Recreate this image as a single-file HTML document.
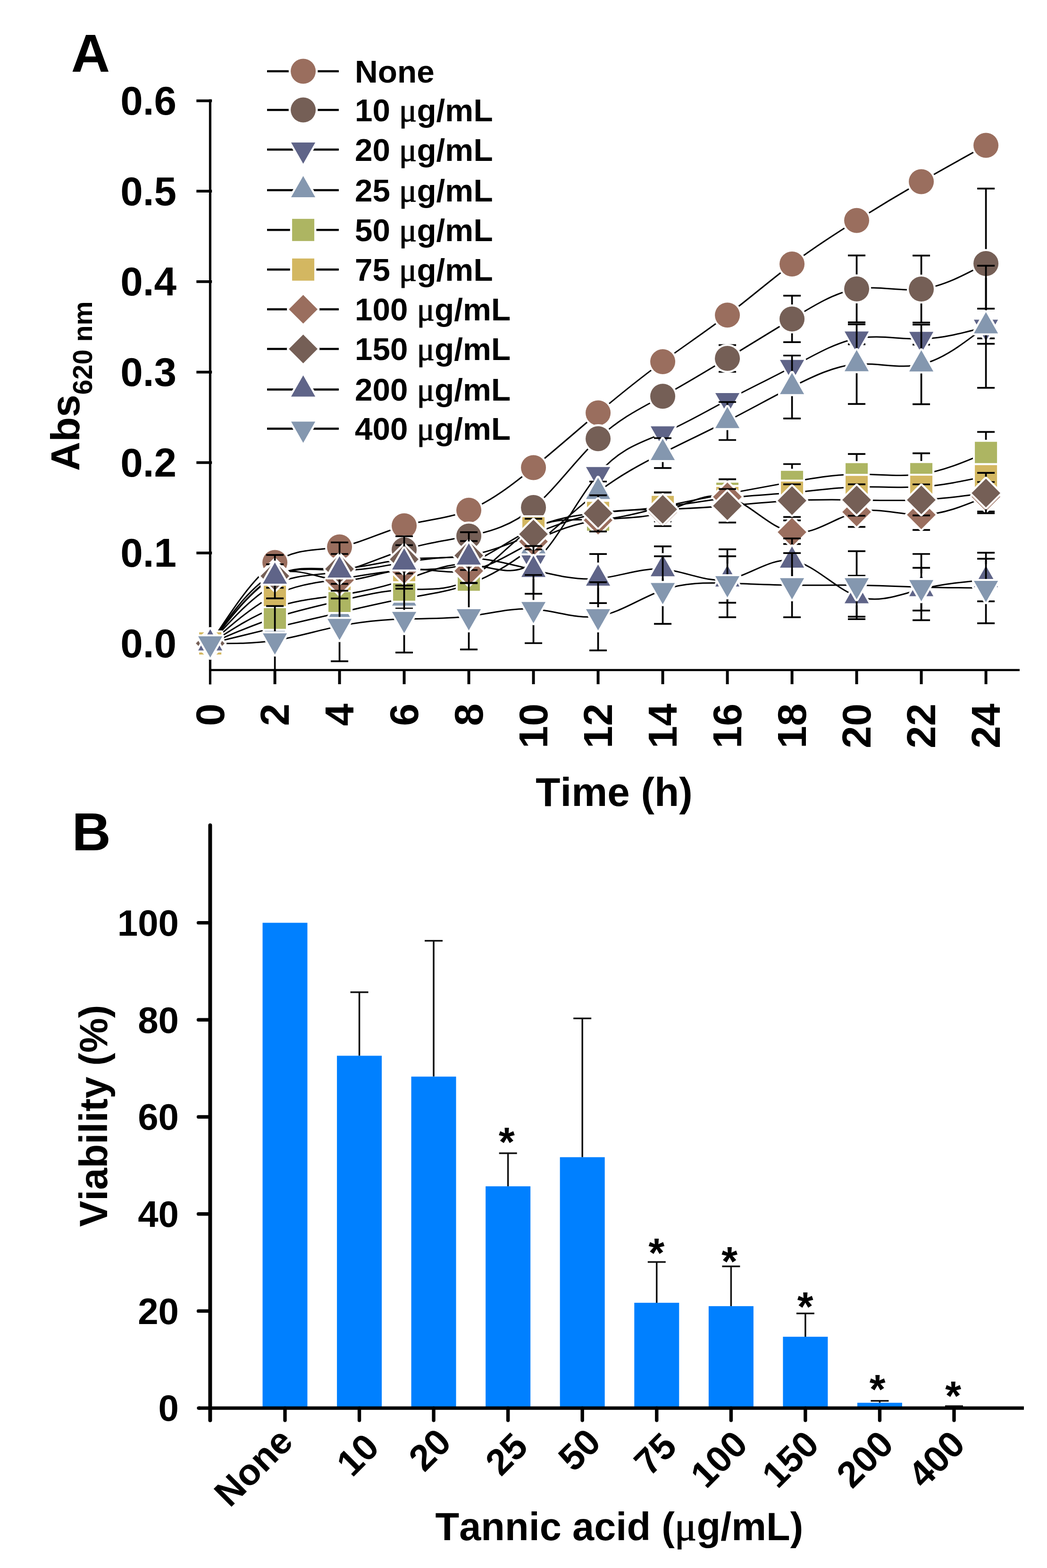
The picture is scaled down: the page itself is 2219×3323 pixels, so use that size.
<!DOCTYPE html>
<html lang="en"><head><meta charset="utf-8"><title>Tannic acid growth and viability</title>
<style>html,body{margin:0;padding:0;background:#fff}body{width:2219px;height:3323px;overflow:hidden}svg{display:block}</style>
</head><body>
<svg width="2219" height="3323" viewBox="0 0 2219 3323" font-family="'Liberation Sans', sans-serif" font-weight="700" fill="#000" style="font-kerning:none">
<rect width="2219" height="3323" fill="#fff"/>
<g stroke="#000" fill="none" stroke-linecap="butt">
<path d="M445.40000000000003 210.5V1450.6" stroke-width="5.1"/>
<path d="M443.1 1420.0H2161" stroke-width="4.5"/>
<path d="M416.3 1363.6H449.20000000000005" stroke-width="5.8"/>
<path d="M416.3 1171.9H449.20000000000005" stroke-width="5.8"/>
<path d="M416.3 980.3H449.20000000000005" stroke-width="5.8"/>
<path d="M416.3 788.6H449.20000000000005" stroke-width="5.8"/>
<path d="M416.3 596.9H449.20000000000005" stroke-width="5.8"/>
<path d="M416.3 405.2H449.20000000000005" stroke-width="5.8"/>
<path d="M416.3 213.6H449.20000000000005" stroke-width="5.8"/>
<path d="M582.6 1420.0V1450" stroke-width="6"/>
<path d="M719.6 1420.0V1450" stroke-width="6"/>
<path d="M856.6 1420.0V1450" stroke-width="6"/>
<path d="M993.6 1420.0V1450" stroke-width="6"/>
<path d="M1130.6 1420.0V1450" stroke-width="6"/>
<path d="M1267.6 1420.0V1450" stroke-width="6"/>
<path d="M1404.6 1420.0V1450" stroke-width="6"/>
<path d="M1541.6 1420.0V1450" stroke-width="6"/>
<path d="M1678.6 1420.0V1450" stroke-width="6"/>
<path d="M1815.6 1420.0V1450" stroke-width="6"/>
<path d="M1952.6 1420.0V1450" stroke-width="6"/>
<path d="M2089.6 1420.0V1450" stroke-width="6"/>
</g>
<g font-size="85.5" text-anchor="end">
<text x="374" y="1393.1">0.0</text>
<text x="374" y="1201.4">0.1</text>
<text x="374" y="1009.8">0.2</text>
<text x="374" y="818.1">0.3</text>
<text x="374" y="626.4">0.4</text>
<text x="374" y="434.7">0.5</text>
<text x="374" y="243.1">0.6</text>
</g>
<g font-size="85.5" text-anchor="end">
<text transform="translate(475.1 1491) rotate(-90)">0</text>
<text transform="translate(612.1 1491) rotate(-90)">2</text>
<text transform="translate(749.1 1491) rotate(-90)">4</text>
<text transform="translate(886.1 1491) rotate(-90)">6</text>
<text transform="translate(1023.1 1491) rotate(-90)">8</text>
<text transform="translate(1160.1 1491) rotate(-90)">10</text>
<text transform="translate(1297.1 1491) rotate(-90)">12</text>
<text transform="translate(1434.1 1491) rotate(-90)">14</text>
<text transform="translate(1571.1 1491) rotate(-90)">16</text>
<text transform="translate(1708.1 1491) rotate(-90)">18</text>
<text transform="translate(1845.1 1491) rotate(-90)">20</text>
<text transform="translate(1982.1 1491) rotate(-90)">22</text>
<text transform="translate(2119.1 1491) rotate(-90)">24</text>
</g>
<text x="1301.5" y="1707.5" font-size="85.5" text-anchor="middle">Time (h)</text>
<text transform="translate(168.4 998) rotate(-90)" font-size="85.5">Abs<tspan font-size="57.5" dy="27">620 nm</tspan></text>
<text x="150.8" y="151.6" font-size="114">A</text>
<g>
<path d="M566 151.0H718" stroke="#000" stroke-width="4.5" fill="none"/>
<circle cx="642.6" cy="151.0" r="26.5" fill="#9a6e5e" stroke="#fff" stroke-width="8.8" paint-order="stroke" stroke-linejoin="round"/>
<text x="752" y="174.8" font-size="67.5">None</text>
<path d="M566 232.9H718" stroke="#000" stroke-width="4.5" fill="none"/>
<circle cx="642.6" cy="232.9" r="26.5" fill="#755f56" stroke="#fff" stroke-width="8.8" paint-order="stroke" stroke-linejoin="round"/>
<text x="752" y="256.7" font-size="67.5">10 <tspan font-family="'Liberation Serif', serif" font-weight="400" font-size="70" stroke="#000" stroke-width="1.1">μ</tspan>g/mL</text>
<path d="M566 317.0H718" stroke="#000" stroke-width="4.5" fill="none"/>
<path d="M642.6 347.0L668.2 302.0L617.0 302.0Z" fill="#5f6488" stroke="#fff" stroke-width="8.8" paint-order="stroke" stroke-linejoin="round"/>
<text x="752" y="340.8" font-size="67.5">20 <tspan font-family="'Liberation Serif', serif" font-weight="400" font-size="70" stroke="#000" stroke-width="1.1">μ</tspan>g/mL</text>
<path d="M566 402.9H718" stroke="#000" stroke-width="4.5" fill="none"/>
<path d="M642.6 372.9L668.2 417.9L617.0 417.9Z" fill="#8497af" stroke="#fff" stroke-width="8.8" paint-order="stroke" stroke-linejoin="round"/>
<text x="752" y="426.7" font-size="67.5">25 <tspan font-family="'Liberation Serif', serif" font-weight="400" font-size="70" stroke="#000" stroke-width="1.1">μ</tspan>g/mL</text>
<path d="M566 487.3H718" stroke="#000" stroke-width="4.5" fill="none"/>
<rect x="619.1" y="463.8" width="47.0" height="47.0" fill="#adb562" stroke="#fff" stroke-width="8.8" paint-order="stroke" stroke-linejoin="round"/>
<text x="752" y="511.1" font-size="67.5">50 <tspan font-family="'Liberation Serif', serif" font-weight="400" font-size="70" stroke="#000" stroke-width="1.1">μ</tspan>g/mL</text>
<path d="M566 571.3H718" stroke="#000" stroke-width="4.5" fill="none"/>
<rect x="619.1" y="547.8" width="47.0" height="47.0" fill="#d3b761" stroke="#fff" stroke-width="8.8" paint-order="stroke" stroke-linejoin="round"/>
<text x="752" y="595.1" font-size="67.5">75 <tspan font-family="'Liberation Serif', serif" font-weight="400" font-size="70" stroke="#000" stroke-width="1.1">μ</tspan>g/mL</text>
<path d="M566 655.4H718" stroke="#000" stroke-width="4.5" fill="none"/>
<path d="M642.6 625.0L673.0 655.4L642.6 685.8L612.2 655.4Z" fill="#9a6e5e" stroke="#fff" stroke-width="8.8" paint-order="stroke" stroke-linejoin="round"/>
<text x="752" y="679.2" font-size="67.5">100 <tspan font-family="'Liberation Serif', serif" font-weight="400" font-size="70" stroke="#000" stroke-width="1.1">μ</tspan>g/mL</text>
<path d="M566 739.5H718" stroke="#000" stroke-width="4.5" fill="none"/>
<path d="M642.6 709.1L673.0 739.5L642.6 769.9L612.2 739.5Z" fill="#755f56" stroke="#fff" stroke-width="8.8" paint-order="stroke" stroke-linejoin="round"/>
<text x="752" y="763.3" font-size="67.5">150 <tspan font-family="'Liberation Serif', serif" font-weight="400" font-size="70" stroke="#000" stroke-width="1.1">μ</tspan>g/mL</text>
<path d="M566 825.4H718" stroke="#000" stroke-width="4.5" fill="none"/>
<path d="M642.6 795.4L668.2 840.4L617.0 840.4Z" fill="#5f6488" stroke="#fff" stroke-width="8.8" paint-order="stroke" stroke-linejoin="round"/>
<text x="752" y="849.2" font-size="67.5">200 <tspan font-family="'Liberation Serif', serif" font-weight="400" font-size="70" stroke="#000" stroke-width="1.1">μ</tspan>g/mL</text>
<path d="M566 908.6H718" stroke="#000" stroke-width="4.5" fill="none"/>
<path d="M642.6 938.6L668.2 893.6L617.0 893.6Z" fill="#8497af" stroke="#fff" stroke-width="8.8" paint-order="stroke" stroke-linejoin="round"/>
<text x="752" y="932.4" font-size="67.5">400 <tspan font-family="'Liberation Serif', serif" font-weight="400" font-size="70" stroke="#000" stroke-width="1.1">μ</tspan>g/mL</text>
</g>
<g id="pa">
<path d="M445.6 1363.6C491.3 1293.6 536.9 1223.6 582.6 1192.1C628.3 1160.5 673.9 1167.5 719.6 1159.1C765.3 1150.7 810.9 1127.0 856.6 1114.2C902.3 1101.4 947.9 1099.5 993.6 1081.3C1039.3 1063.0 1084.9 1028.4 1130.6 991.0C1176.3 953.6 1221.9 913.5 1267.6 875.0C1313.3 836.6 1358.9 799.9 1404.6 766.4C1450.3 732.9 1495.9 702.6 1541.6 667.8C1587.3 633.1 1632.9 593.9 1678.6 559.5C1724.3 525.2 1769.9 495.6 1815.6 467.2C1861.3 438.7 1906.9 411.3 1952.6 384.9C1998.3 358.6 2043.9 333.3 2089.6 308.1" stroke="#000" stroke-width="3.0" fill="none"/>
<path d="M445.6 1363.6C491.3 1312.7 536.9 1261.7 582.6 1238.6C628.3 1215.5 673.9 1220.2 719.6 1211.2C765.3 1202.2 810.9 1179.5 856.6 1165.2C902.3 1151.0 947.9 1145.1 993.6 1135.9C1039.3 1126.7 1084.9 1114.0 1130.6 1075.5C1176.3 1037.1 1221.9 972.8 1267.6 929.7C1313.3 886.5 1358.9 864.5 1404.6 839.8C1450.3 815.0 1495.9 787.4 1541.6 759.6C1587.3 731.9 1632.9 703.9 1678.6 675.9C1724.3 647.8 1769.9 619.7 1815.6 612.3C1861.3 604.8 1906.9 618.2 1952.6 612.6C1998.3 607.1 2043.9 582.8 2089.6 558.4" stroke="#000" stroke-width="3.0" fill="none"/>
<path d="M445.6 1363.6C491.3 1334.0 536.9 1304.4 582.6 1287.9C628.3 1271.4 673.9 1267.9 719.6 1261.2C765.3 1254.6 810.9 1244.7 856.6 1229.2C902.3 1213.8 947.9 1192.7 993.6 1195.9C1039.3 1199.1 1084.9 1226.6 1130.6 1191.7C1176.3 1156.8 1221.9 1059.5 1267.6 1004.8C1313.3 950.1 1358.9 937.8 1404.6 918.4C1450.3 898.9 1495.9 872.2 1541.6 848.0C1587.3 823.8 1632.9 802.1 1678.6 777.7C1724.3 753.2 1769.9 726.0 1815.6 717.5C1861.3 709.0 1906.9 719.3 1952.6 718.2C1998.3 717.2 2043.9 704.9 2089.6 692.6" stroke="#000" stroke-width="3.0" fill="none"/>
<path d="M445.6 1363.6C491.3 1352.2 536.9 1340.9 582.6 1330.1C628.3 1319.3 673.9 1309.0 719.6 1298.4C765.3 1287.8 810.9 1276.8 856.6 1268.5C902.3 1260.2 947.9 1254.6 993.6 1238.1C1039.3 1221.5 1084.9 1193.9 1130.6 1157.7C1176.3 1121.6 1221.9 1077.0 1267.6 1042.4C1313.3 1007.7 1358.9 983.2 1404.6 960.1C1450.3 937.1 1495.9 915.7 1541.6 892.3C1587.3 868.9 1632.9 843.6 1678.6 820.2C1724.3 796.8 1769.9 775.3 1815.6 771.7C1861.3 768.2 1906.9 782.7 1952.6 772.3C1998.3 761.9 2043.9 726.7 2089.6 691.4" stroke="#000" stroke-width="3.0" fill="none"/>
<path d="M445.6 1363.6C491.3 1343.8 536.9 1324.1 582.6 1309.2C628.3 1294.2 673.9 1284.1 719.6 1273.5C765.3 1262.9 810.9 1251.7 856.6 1249.6C902.3 1247.4 947.9 1254.2 993.6 1228.5C1039.3 1202.7 1084.9 1144.4 1130.6 1119.6C1176.3 1094.8 1221.9 1103.6 1267.6 1101.2C1313.3 1098.8 1358.9 1085.4 1404.6 1074.4C1450.3 1063.4 1495.9 1054.9 1541.6 1046.4C1587.3 1037.9 1632.9 1029.4 1678.6 1021.3C1724.3 1013.2 1769.9 1005.5 1815.6 1005.0C1861.3 1004.5 1906.9 1011.1 1952.6 1004.8C1998.3 998.5 2043.9 979.1 2089.6 959.8" stroke="#000" stroke-width="3.0" fill="none"/>
<path d="M445.6 1363.6C491.3 1323.5 536.9 1283.4 582.6 1261.1C628.3 1238.7 673.9 1234.1 719.6 1227.1C765.3 1220.2 810.9 1211.0 856.6 1208.3C902.3 1205.7 947.9 1209.6 993.6 1193.4C1039.3 1177.2 1084.9 1141.0 1130.6 1119.6C1176.3 1098.2 1221.9 1091.6 1267.6 1087.0C1313.3 1082.4 1358.9 1079.8 1404.6 1074.4C1450.3 1068.9 1495.9 1060.5 1541.6 1055.4C1587.3 1050.2 1632.9 1048.3 1678.6 1044.1C1724.3 1039.9 1769.9 1033.3 1815.6 1032.0C1861.3 1030.7 1906.9 1034.6 1952.6 1031.6C1998.3 1028.7 2043.9 1018.9 2089.6 1009.2" stroke="#000" stroke-width="3.0" fill="none"/>
<path d="M445.6 1363.6C491.3 1299.4 536.9 1235.2 582.6 1217.0C628.3 1198.8 673.9 1226.6 719.6 1229.4C765.3 1232.2 810.9 1210.0 856.6 1206.4C902.3 1202.8 947.9 1217.8 993.6 1209.9C1039.3 1202.0 1084.9 1171.1 1130.6 1147.8C1176.3 1124.4 1221.9 1108.5 1267.6 1102.4C1313.3 1096.2 1358.9 1099.7 1404.6 1085.9C1450.3 1072.1 1495.9 1040.9 1541.6 1052.9C1587.3 1064.9 1632.9 1120.0 1678.6 1127.8C1724.3 1135.6 1769.9 1096.1 1815.6 1085.1C1861.3 1074.1 1906.9 1091.7 1952.6 1091.0C1998.3 1090.4 2043.9 1071.6 2089.6 1052.7" stroke="#000" stroke-width="3.0" fill="none"/>
<path d="M445.6 1363.6C491.3 1304.3 536.9 1245.1 582.6 1220.8C628.3 1196.5 673.9 1207.3 719.6 1205.7C765.3 1204.1 810.9 1190.1 856.6 1185.3C902.3 1180.5 947.9 1184.9 993.6 1177.3C1039.3 1169.7 1084.9 1150.2 1130.6 1131.9C1176.3 1113.5 1221.9 1096.3 1267.6 1088.0C1313.3 1079.7 1358.9 1080.4 1404.6 1079.4C1450.3 1078.3 1495.9 1075.6 1541.6 1071.9C1587.3 1068.1 1632.9 1063.3 1678.6 1061.0C1724.3 1058.6 1769.9 1058.8 1815.6 1059.6C1861.3 1060.4 1906.9 1061.8 1952.6 1059.4C1998.3 1057.1 2043.9 1051.0 2089.6 1044.9" stroke="#000" stroke-width="3.0" fill="none"/>
<path d="M445.6 1363.6C491.3 1304.9 536.9 1246.3 582.6 1222.1C628.3 1198.0 673.9 1208.5 719.6 1208.9C765.3 1209.4 810.9 1199.8 856.6 1192.1C902.3 1184.3 947.9 1178.5 993.6 1181.5C1039.3 1184.5 1084.9 1196.3 1130.6 1207.8C1176.3 1219.2 1221.9 1230.2 1267.6 1226.2C1313.3 1222.1 1358.9 1203.0 1404.6 1206.2C1450.3 1209.5 1495.9 1235.1 1541.6 1228.1C1587.3 1221.1 1632.9 1181.5 1678.6 1188.0C1724.3 1194.5 1769.9 1247.1 1815.6 1263.5C1861.3 1280.0 1906.9 1260.3 1952.6 1248.6C1998.3 1236.9 2043.9 1233.0 2089.6 1229.2" stroke="#000" stroke-width="3.0" fill="none"/>
<path d="M445.6 1363.6C491.3 1363.9 536.9 1364.3 582.6 1357.3C628.3 1350.3 673.9 1335.9 719.6 1326.6C765.3 1317.4 810.9 1313.2 856.6 1311.8C902.3 1310.5 947.9 1311.8 993.6 1306.1C1039.3 1300.4 1084.9 1287.6 1130.6 1290.8C1176.3 1293.9 1221.9 1312.9 1267.6 1306.1C1313.3 1299.3 1358.9 1266.6 1404.6 1250.5C1450.3 1234.4 1495.9 1234.8 1541.6 1236.1C1587.3 1237.4 1632.9 1239.6 1678.6 1240.2C1724.3 1240.7 1769.9 1239.6 1815.6 1240.2C1861.3 1240.7 1906.9 1242.9 1952.6 1244.2C1998.3 1245.5 2043.9 1245.8 2089.6 1246.1" stroke="#000" stroke-width="3.0" fill="none"/>
<circle cx="445.6" cy="1363.6" r="26.5" fill="#9a6e5e" stroke="#fff" stroke-width="8.4" paint-order="stroke" stroke-linejoin="round"/>
<circle cx="582.6" cy="1192.1" r="26.5" fill="#9a6e5e" stroke="#fff" stroke-width="8.4" paint-order="stroke" stroke-linejoin="round"/>
<circle cx="719.6" cy="1159.1" r="26.5" fill="#9a6e5e" stroke="#fff" stroke-width="8.4" paint-order="stroke" stroke-linejoin="round"/>
<circle cx="856.6" cy="1114.2" r="26.5" fill="#9a6e5e" stroke="#fff" stroke-width="8.4" paint-order="stroke" stroke-linejoin="round"/>
<circle cx="993.6" cy="1081.3" r="26.5" fill="#9a6e5e" stroke="#fff" stroke-width="8.4" paint-order="stroke" stroke-linejoin="round"/>
<circle cx="1130.6" cy="991.0" r="26.5" fill="#9a6e5e" stroke="#fff" stroke-width="8.4" paint-order="stroke" stroke-linejoin="round"/>
<circle cx="1267.6" cy="875.0" r="26.5" fill="#9a6e5e" stroke="#fff" stroke-width="8.4" paint-order="stroke" stroke-linejoin="round"/>
<circle cx="1404.6" cy="766.4" r="26.5" fill="#9a6e5e" stroke="#fff" stroke-width="8.4" paint-order="stroke" stroke-linejoin="round"/>
<circle cx="1541.6" cy="667.8" r="26.5" fill="#9a6e5e" stroke="#fff" stroke-width="8.4" paint-order="stroke" stroke-linejoin="round"/>
<circle cx="1678.6" cy="559.5" r="26.5" fill="#9a6e5e" stroke="#fff" stroke-width="8.4" paint-order="stroke" stroke-linejoin="round"/>
<circle cx="1815.6" cy="467.2" r="26.5" fill="#9a6e5e" stroke="#fff" stroke-width="8.4" paint-order="stroke" stroke-linejoin="round"/>
<circle cx="1952.6" cy="384.9" r="26.5" fill="#9a6e5e" stroke="#fff" stroke-width="8.4" paint-order="stroke" stroke-linejoin="round"/>
<circle cx="2089.6" cy="308.1" r="26.5" fill="#9a6e5e" stroke="#fff" stroke-width="8.4" paint-order="stroke" stroke-linejoin="round"/>
<path d="M1541.6 731.3V788.0M1523.1 731.3h37M1523.1 788.0h37M1678.6 626.6V725.1M1660.1 626.6h37M1660.1 725.1h37M1815.6 541.3V683.2M1797.1 541.3h37M1797.1 683.2h37M1952.6 541.7V683.6M1934.1 541.7h37M1934.1 683.6h37M2089.6 399.7V717.1M2071.1 399.7h37M2071.1 717.1h37" stroke="#000" stroke-width="3.7" fill="none"/>
<circle cx="445.6" cy="1363.6" r="26.5" fill="#755f56" stroke="#fff" stroke-width="8.4" paint-order="stroke" stroke-linejoin="round"/>
<circle cx="582.6" cy="1238.6" r="26.5" fill="#755f56" stroke="#fff" stroke-width="8.4" paint-order="stroke" stroke-linejoin="round"/>
<circle cx="719.6" cy="1211.2" r="26.5" fill="#755f56" stroke="#fff" stroke-width="8.4" paint-order="stroke" stroke-linejoin="round"/>
<circle cx="856.6" cy="1165.2" r="26.5" fill="#755f56" stroke="#fff" stroke-width="8.4" paint-order="stroke" stroke-linejoin="round"/>
<circle cx="993.6" cy="1135.9" r="26.5" fill="#755f56" stroke="#fff" stroke-width="8.4" paint-order="stroke" stroke-linejoin="round"/>
<circle cx="1130.6" cy="1075.5" r="26.5" fill="#755f56" stroke="#fff" stroke-width="8.4" paint-order="stroke" stroke-linejoin="round"/>
<circle cx="1267.6" cy="929.7" r="26.5" fill="#755f56" stroke="#fff" stroke-width="8.4" paint-order="stroke" stroke-linejoin="round"/>
<circle cx="1404.6" cy="839.8" r="26.5" fill="#755f56" stroke="#fff" stroke-width="8.4" paint-order="stroke" stroke-linejoin="round"/>
<circle cx="1541.6" cy="759.6" r="26.5" fill="#755f56" stroke="#fff" stroke-width="8.4" paint-order="stroke" stroke-linejoin="round"/>
<circle cx="1678.6" cy="675.9" r="26.5" fill="#755f56" stroke="#fff" stroke-width="8.4" paint-order="stroke" stroke-linejoin="round"/>
<circle cx="1815.6" cy="612.3" r="26.5" fill="#755f56" stroke="#fff" stroke-width="8.4" paint-order="stroke" stroke-linejoin="round"/>
<circle cx="1952.6" cy="612.6" r="26.5" fill="#755f56" stroke="#fff" stroke-width="8.4" paint-order="stroke" stroke-linejoin="round"/>
<circle cx="2089.6" cy="558.4" r="26.5" fill="#755f56" stroke="#fff" stroke-width="8.4" paint-order="stroke" stroke-linejoin="round"/>
<path d="M1815.6 705.4V729.6M1797.1 705.4h37M1797.1 729.6h37M1952.6 706.2V730.3M1934.1 706.2h37M1934.1 730.3h37M2089.6 563.2V821.9M2071.1 563.2h37M2071.1 821.9h37" stroke="#000" stroke-width="3.7" fill="none"/>
<path d="M445.6 1393.6L471.2 1348.6L420.0 1348.6Z" fill="#5f6488" stroke="#fff" stroke-width="8.4" paint-order="stroke" stroke-linejoin="round"/>
<path d="M582.6 1317.9L608.2 1272.9L557.0 1272.9Z" fill="#5f6488" stroke="#fff" stroke-width="8.4" paint-order="stroke" stroke-linejoin="round"/>
<path d="M719.6 1291.2L745.2 1246.2L694.0 1246.2Z" fill="#5f6488" stroke="#fff" stroke-width="8.4" paint-order="stroke" stroke-linejoin="round"/>
<path d="M856.6 1259.2L882.2 1214.2L831.0 1214.2Z" fill="#5f6488" stroke="#fff" stroke-width="8.4" paint-order="stroke" stroke-linejoin="round"/>
<path d="M993.6 1225.9L1019.2 1180.9L968.0 1180.9Z" fill="#5f6488" stroke="#fff" stroke-width="8.4" paint-order="stroke" stroke-linejoin="round"/>
<path d="M1130.6 1221.7L1156.2 1176.7L1105.0 1176.7Z" fill="#5f6488" stroke="#fff" stroke-width="8.4" paint-order="stroke" stroke-linejoin="round"/>
<path d="M1267.6 1034.8L1293.2 989.8L1242.0 989.8Z" fill="#5f6488" stroke="#fff" stroke-width="8.4" paint-order="stroke" stroke-linejoin="round"/>
<path d="M1404.6 948.4L1430.2 903.4L1379.0 903.4Z" fill="#5f6488" stroke="#fff" stroke-width="8.4" paint-order="stroke" stroke-linejoin="round"/>
<path d="M1541.6 878.0L1567.2 833.0L1516.0 833.0Z" fill="#5f6488" stroke="#fff" stroke-width="8.4" paint-order="stroke" stroke-linejoin="round"/>
<path d="M1678.6 807.7L1704.2 762.7L1653.0 762.7Z" fill="#5f6488" stroke="#fff" stroke-width="8.4" paint-order="stroke" stroke-linejoin="round"/>
<path d="M1815.6 747.5L1841.2 702.5L1790.0 702.5Z" fill="#5f6488" stroke="#fff" stroke-width="8.4" paint-order="stroke" stroke-linejoin="round"/>
<path d="M1952.6 748.2L1978.2 703.2L1927.0 703.2Z" fill="#5f6488" stroke="#fff" stroke-width="8.4" paint-order="stroke" stroke-linejoin="round"/>
<path d="M2089.6 722.6L2115.2 677.6L2064.0 677.6Z" fill="#5f6488" stroke="#fff" stroke-width="8.4" paint-order="stroke" stroke-linejoin="round"/>
<path d="M856.6 1248.8V1288.3M838.1 1248.8h37M838.1 1288.3h37M1267.6 1020.5V1064.2M1249.1 1020.5h37M1249.1 1064.2h37M1404.6 928.5V991.8M1386.1 928.5h37M1386.1 991.8h37M1541.6 852.0V932.5M1523.1 852.0h37M1523.1 932.5h37M1678.6 753.5V886.9M1660.1 753.5h37M1660.1 886.9h37M1815.6 687.4V856.1M1797.1 687.4h37M1797.1 856.1h37M1952.6 688.0V856.6M1934.1 688.0h37M1934.1 856.6h37M2089.6 654.2V728.6M2071.1 654.2h37M2071.1 728.6h37" stroke="#000" stroke-width="3.7" fill="none"/>
<path d="M445.6 1333.6L471.2 1378.6L420.0 1378.6Z" fill="#8497af" stroke="#fff" stroke-width="8.4" paint-order="stroke" stroke-linejoin="round"/>
<path d="M582.6 1300.1L608.2 1345.1L557.0 1345.1Z" fill="#8497af" stroke="#fff" stroke-width="8.4" paint-order="stroke" stroke-linejoin="round"/>
<path d="M719.6 1268.4L745.2 1313.4L694.0 1313.4Z" fill="#8497af" stroke="#fff" stroke-width="8.4" paint-order="stroke" stroke-linejoin="round"/>
<path d="M856.6 1238.5L882.2 1283.5L831.0 1283.5Z" fill="#8497af" stroke="#fff" stroke-width="8.4" paint-order="stroke" stroke-linejoin="round"/>
<path d="M993.6 1208.1L1019.2 1253.1L968.0 1253.1Z" fill="#8497af" stroke="#fff" stroke-width="8.4" paint-order="stroke" stroke-linejoin="round"/>
<path d="M1130.6 1127.7L1156.2 1172.7L1105.0 1172.7Z" fill="#8497af" stroke="#fff" stroke-width="8.4" paint-order="stroke" stroke-linejoin="round"/>
<path d="M1267.6 1012.4L1293.2 1057.4L1242.0 1057.4Z" fill="#8497af" stroke="#fff" stroke-width="8.4" paint-order="stroke" stroke-linejoin="round"/>
<path d="M1404.6 930.1L1430.2 975.1L1379.0 975.1Z" fill="#8497af" stroke="#fff" stroke-width="8.4" paint-order="stroke" stroke-linejoin="round"/>
<path d="M1541.6 862.3L1567.2 907.3L1516.0 907.3Z" fill="#8497af" stroke="#fff" stroke-width="8.4" paint-order="stroke" stroke-linejoin="round"/>
<path d="M1678.6 790.2L1704.2 835.2L1653.0 835.2Z" fill="#8497af" stroke="#fff" stroke-width="8.4" paint-order="stroke" stroke-linejoin="round"/>
<path d="M1815.6 741.7L1841.2 786.7L1790.0 786.7Z" fill="#8497af" stroke="#fff" stroke-width="8.4" paint-order="stroke" stroke-linejoin="round"/>
<path d="M1952.6 742.3L1978.2 787.3L1927.0 787.3Z" fill="#8497af" stroke="#fff" stroke-width="8.4" paint-order="stroke" stroke-linejoin="round"/>
<path d="M2089.6 661.4L2115.2 706.4L2064.0 706.4Z" fill="#8497af" stroke="#fff" stroke-width="8.4" paint-order="stroke" stroke-linejoin="round"/>
<path d="M1541.6 1015.7V1077.1M1523.1 1015.7h37M1523.1 1077.1h37M1678.6 983.5V1059.0M1660.1 983.5h37M1660.1 1059.0h37M1815.6 962.1V1047.9M1797.1 962.1h37M1797.1 1047.9h37M1952.6 960.7V1048.9M1934.1 960.7h37M1934.1 1048.9h37M2089.6 915.3V1004.2M2071.1 915.3h37M2071.1 1004.2h37" stroke="#000" stroke-width="3.7" fill="none"/>
<rect x="422.1" y="1340.1" width="47.0" height="47.0" fill="#adb562" stroke="#fff" stroke-width="8.4" paint-order="stroke" stroke-linejoin="round"/>
<rect x="559.1" y="1285.7" width="47.0" height="47.0" fill="#adb562" stroke="#fff" stroke-width="8.4" paint-order="stroke" stroke-linejoin="round"/>
<rect x="696.1" y="1250.0" width="47.0" height="47.0" fill="#adb562" stroke="#fff" stroke-width="8.4" paint-order="stroke" stroke-linejoin="round"/>
<rect x="833.1" y="1226.1" width="47.0" height="47.0" fill="#adb562" stroke="#fff" stroke-width="8.4" paint-order="stroke" stroke-linejoin="round"/>
<rect x="970.1" y="1205.0" width="47.0" height="47.0" fill="#adb562" stroke="#fff" stroke-width="8.4" paint-order="stroke" stroke-linejoin="round"/>
<rect x="1107.1" y="1096.1" width="47.0" height="47.0" fill="#adb562" stroke="#fff" stroke-width="8.4" paint-order="stroke" stroke-linejoin="round"/>
<rect x="1244.1" y="1077.7" width="47.0" height="47.0" fill="#adb562" stroke="#fff" stroke-width="8.4" paint-order="stroke" stroke-linejoin="round"/>
<rect x="1381.1" y="1050.9" width="47.0" height="47.0" fill="#adb562" stroke="#fff" stroke-width="8.4" paint-order="stroke" stroke-linejoin="round"/>
<rect x="1518.1" y="1022.9" width="47.0" height="47.0" fill="#adb562" stroke="#fff" stroke-width="8.4" paint-order="stroke" stroke-linejoin="round"/>
<rect x="1655.1" y="997.8" width="47.0" height="47.0" fill="#adb562" stroke="#fff" stroke-width="8.4" paint-order="stroke" stroke-linejoin="round"/>
<rect x="1792.1" y="981.5" width="47.0" height="47.0" fill="#adb562" stroke="#fff" stroke-width="8.4" paint-order="stroke" stroke-linejoin="round"/>
<rect x="1929.1" y="981.3" width="47.0" height="47.0" fill="#adb562" stroke="#fff" stroke-width="8.4" paint-order="stroke" stroke-linejoin="round"/>
<rect x="2066.1" y="936.3" width="47.0" height="47.0" fill="#adb562" stroke="#fff" stroke-width="8.4" paint-order="stroke" stroke-linejoin="round"/>
<path d="M1404.6 1043.7V1105.0M1386.1 1043.7h37M1386.1 1105.0h37" stroke="#000" stroke-width="3.7" fill="none"/>
<rect x="422.1" y="1340.1" width="47.0" height="47.0" fill="#d3b761" stroke="#fff" stroke-width="8.4" paint-order="stroke" stroke-linejoin="round"/>
<rect x="559.1" y="1237.6" width="47.0" height="47.0" fill="#d3b761" stroke="#fff" stroke-width="8.4" paint-order="stroke" stroke-linejoin="round"/>
<rect x="696.1" y="1203.6" width="47.0" height="47.0" fill="#d3b761" stroke="#fff" stroke-width="8.4" paint-order="stroke" stroke-linejoin="round"/>
<rect x="833.1" y="1184.8" width="47.0" height="47.0" fill="#d3b761" stroke="#fff" stroke-width="8.4" paint-order="stroke" stroke-linejoin="round"/>
<rect x="970.1" y="1169.9" width="47.0" height="47.0" fill="#d3b761" stroke="#fff" stroke-width="8.4" paint-order="stroke" stroke-linejoin="round"/>
<rect x="1107.1" y="1096.1" width="47.0" height="47.0" fill="#d3b761" stroke="#fff" stroke-width="8.4" paint-order="stroke" stroke-linejoin="round"/>
<rect x="1244.1" y="1063.5" width="47.0" height="47.0" fill="#d3b761" stroke="#fff" stroke-width="8.4" paint-order="stroke" stroke-linejoin="round"/>
<rect x="1381.1" y="1050.9" width="47.0" height="47.0" fill="#d3b761" stroke="#fff" stroke-width="8.4" paint-order="stroke" stroke-linejoin="round"/>
<rect x="1518.1" y="1031.9" width="47.0" height="47.0" fill="#d3b761" stroke="#fff" stroke-width="8.4" paint-order="stroke" stroke-linejoin="round"/>
<rect x="1655.1" y="1020.6" width="47.0" height="47.0" fill="#d3b761" stroke="#fff" stroke-width="8.4" paint-order="stroke" stroke-linejoin="round"/>
<rect x="1792.1" y="1008.5" width="47.0" height="47.0" fill="#d3b761" stroke="#fff" stroke-width="8.4" paint-order="stroke" stroke-linejoin="round"/>
<rect x="1929.1" y="1008.1" width="47.0" height="47.0" fill="#d3b761" stroke="#fff" stroke-width="8.4" paint-order="stroke" stroke-linejoin="round"/>
<rect x="2066.1" y="985.7" width="47.0" height="47.0" fill="#d3b761" stroke="#fff" stroke-width="8.4" paint-order="stroke" stroke-linejoin="round"/>
<path d="M1678.6 1102.9V1152.8M1660.1 1102.9h37M1660.1 1152.8h37M1815.6 1053.5V1116.7M1797.1 1053.5h37M1797.1 1116.7h37M1952.6 1059.0V1123.1M1934.1 1059.0h37M1934.1 1123.1h37M2089.6 1021.5V1084.0M2071.1 1021.5h37M2071.1 1084.0h37" stroke="#000" stroke-width="3.7" fill="none"/>
<path d="M445.6 1333.2L476.0 1363.6L445.6 1394.0L415.2 1363.6Z" fill="#9a6e5e" stroke="#fff" stroke-width="8.4" paint-order="stroke" stroke-linejoin="round"/>
<path d="M582.6 1186.6L613.0 1217.0L582.6 1247.4L552.2 1217.0Z" fill="#9a6e5e" stroke="#fff" stroke-width="8.4" paint-order="stroke" stroke-linejoin="round"/>
<path d="M719.6 1199.0L750.0 1229.4L719.6 1259.8L689.2 1229.4Z" fill="#9a6e5e" stroke="#fff" stroke-width="8.4" paint-order="stroke" stroke-linejoin="round"/>
<path d="M856.6 1176.0L887.0 1206.4L856.6 1236.8L826.2 1206.4Z" fill="#9a6e5e" stroke="#fff" stroke-width="8.4" paint-order="stroke" stroke-linejoin="round"/>
<path d="M993.6 1179.5L1024.0 1209.9L993.6 1240.3L963.2 1209.9Z" fill="#9a6e5e" stroke="#fff" stroke-width="8.4" paint-order="stroke" stroke-linejoin="round"/>
<path d="M1130.6 1117.4L1161.0 1147.8L1130.6 1178.2L1100.2 1147.8Z" fill="#9a6e5e" stroke="#fff" stroke-width="8.4" paint-order="stroke" stroke-linejoin="round"/>
<path d="M1267.6 1072.0L1298.0 1102.4L1267.6 1132.8L1237.2 1102.4Z" fill="#9a6e5e" stroke="#fff" stroke-width="8.4" paint-order="stroke" stroke-linejoin="round"/>
<path d="M1404.6 1055.5L1435.0 1085.9L1404.6 1116.3L1374.2 1085.9Z" fill="#9a6e5e" stroke="#fff" stroke-width="8.4" paint-order="stroke" stroke-linejoin="round"/>
<path d="M1541.6 1022.5L1572.0 1052.9L1541.6 1083.3L1511.2 1052.9Z" fill="#9a6e5e" stroke="#fff" stroke-width="8.4" paint-order="stroke" stroke-linejoin="round"/>
<path d="M1678.6 1097.4L1709.0 1127.8L1678.6 1158.2L1648.2 1127.8Z" fill="#9a6e5e" stroke="#fff" stroke-width="8.4" paint-order="stroke" stroke-linejoin="round"/>
<path d="M1815.6 1054.7L1846.0 1085.1L1815.6 1115.5L1785.2 1085.1Z" fill="#9a6e5e" stroke="#fff" stroke-width="8.4" paint-order="stroke" stroke-linejoin="round"/>
<path d="M1952.6 1060.6L1983.0 1091.0L1952.6 1121.4L1922.2 1091.0Z" fill="#9a6e5e" stroke="#fff" stroke-width="8.4" paint-order="stroke" stroke-linejoin="round"/>
<path d="M2089.6 1022.3L2120.0 1052.7L2089.6 1083.1L2059.2 1052.7Z" fill="#9a6e5e" stroke="#fff" stroke-width="8.4" paint-order="stroke" stroke-linejoin="round"/>
<path d="M582.6 1195.9V1245.7M564.1 1195.9h37M564.1 1245.7h37M719.6 1174.0V1237.3M701.1 1174.0h37M701.1 1237.3h37M856.6 1155.3V1215.4M838.1 1155.3h37M838.1 1215.4h37M993.6 1146.6V1208.0M975.1 1146.6h37M975.1 1208.0h37M1130.6 1099.3V1164.5M1112.1 1099.3h37M1112.1 1164.5h37M1267.6 1049.6V1126.3M1249.1 1049.6h37M1249.1 1126.3h37M1404.6 1043.7V1115.0M1386.1 1043.7h37M1386.1 1115.0h37M1541.6 1036.4V1107.3M1523.1 1036.4h37M1523.1 1107.3h37M1678.6 1026.3V1095.6M1660.1 1026.3h37M1660.1 1095.6h37M1815.6 1026.3V1093.0M1797.1 1026.3h37M1797.1 1093.0h37M1952.6 1026.5V1092.4M1934.1 1026.5h37M1934.1 1092.4h37M2089.6 1002.1V1087.6M2071.1 1002.1h37M2071.1 1087.6h37" stroke="#000" stroke-width="3.7" fill="none"/>
<path d="M445.6 1333.2L476.0 1363.6L445.6 1394.0L415.2 1363.6Z" fill="#755f56" stroke="#fff" stroke-width="8.4" paint-order="stroke" stroke-linejoin="round"/>
<path d="M582.6 1190.4L613.0 1220.8L582.6 1251.2L552.2 1220.8Z" fill="#755f56" stroke="#fff" stroke-width="8.4" paint-order="stroke" stroke-linejoin="round"/>
<path d="M719.6 1175.3L750.0 1205.7L719.6 1236.1L689.2 1205.7Z" fill="#755f56" stroke="#fff" stroke-width="8.4" paint-order="stroke" stroke-linejoin="round"/>
<path d="M856.6 1154.9L887.0 1185.3L856.6 1215.7L826.2 1185.3Z" fill="#755f56" stroke="#fff" stroke-width="8.4" paint-order="stroke" stroke-linejoin="round"/>
<path d="M993.6 1146.9L1024.0 1177.3L993.6 1207.7L963.2 1177.3Z" fill="#755f56" stroke="#fff" stroke-width="8.4" paint-order="stroke" stroke-linejoin="round"/>
<path d="M1130.6 1101.5L1161.0 1131.9L1130.6 1162.3L1100.2 1131.9Z" fill="#755f56" stroke="#fff" stroke-width="8.4" paint-order="stroke" stroke-linejoin="round"/>
<path d="M1267.6 1057.6L1298.0 1088.0L1267.6 1118.4L1237.2 1088.0Z" fill="#755f56" stroke="#fff" stroke-width="8.4" paint-order="stroke" stroke-linejoin="round"/>
<path d="M1404.6 1049.0L1435.0 1079.4L1404.6 1109.8L1374.2 1079.4Z" fill="#755f56" stroke="#fff" stroke-width="8.4" paint-order="stroke" stroke-linejoin="round"/>
<path d="M1541.6 1041.5L1572.0 1071.9L1541.6 1102.3L1511.2 1071.9Z" fill="#755f56" stroke="#fff" stroke-width="8.4" paint-order="stroke" stroke-linejoin="round"/>
<path d="M1678.6 1030.6L1709.0 1061.0L1678.6 1091.4L1648.2 1061.0Z" fill="#755f56" stroke="#fff" stroke-width="8.4" paint-order="stroke" stroke-linejoin="round"/>
<path d="M1815.6 1029.2L1846.0 1059.6L1815.6 1090.0L1785.2 1059.6Z" fill="#755f56" stroke="#fff" stroke-width="8.4" paint-order="stroke" stroke-linejoin="round"/>
<path d="M1952.6 1029.0L1983.0 1059.4L1952.6 1089.8L1922.2 1059.4Z" fill="#755f56" stroke="#fff" stroke-width="8.4" paint-order="stroke" stroke-linejoin="round"/>
<path d="M2089.6 1014.5L2120.0 1044.9L2089.6 1075.3L2059.2 1044.9Z" fill="#755f56" stroke="#fff" stroke-width="8.4" paint-order="stroke" stroke-linejoin="round"/>
<path d="M582.6 1176.1V1268.1M564.1 1176.1h37M564.1 1268.1h37M719.6 1149.5V1268.3M701.1 1149.5h37M701.1 1268.3h37M856.6 1136.5V1247.6M838.1 1136.5h37M838.1 1247.6h37M993.6 1127.8V1235.2M975.1 1127.8h37M975.1 1235.2h37M1130.6 1157.2V1258.4M1112.1 1157.2h37M1112.1 1258.4h37M1267.6 1174.2V1278.1M1249.1 1174.2h37M1249.1 1278.1h37M1404.6 1157.9V1254.5M1386.1 1157.9h37M1386.1 1254.5h37M1541.6 1178.8V1277.3M1523.1 1178.8h37M1523.1 1277.3h37M1678.6 1141.1V1235.0M1660.1 1141.1h37M1660.1 1235.0h37M1815.6 1220.2V1306.9M1797.1 1220.2h37M1797.1 1306.9h37M1952.6 1203.4V1293.8M1934.1 1203.4h37M1934.1 1293.8h37M2089.6 1184.2V1274.3M2071.1 1184.2h37M2071.1 1274.3h37" stroke="#000" stroke-width="3.7" fill="none"/>
<path d="M445.6 1333.6L471.2 1378.6L420.0 1378.6Z" fill="#5f6488" stroke="#fff" stroke-width="8.4" paint-order="stroke" stroke-linejoin="round"/>
<path d="M582.6 1192.1L608.2 1237.1L557.0 1237.1Z" fill="#5f6488" stroke="#fff" stroke-width="8.4" paint-order="stroke" stroke-linejoin="round"/>
<path d="M719.6 1178.9L745.2 1223.9L694.0 1223.9Z" fill="#5f6488" stroke="#fff" stroke-width="8.4" paint-order="stroke" stroke-linejoin="round"/>
<path d="M856.6 1162.1L882.2 1207.1L831.0 1207.1Z" fill="#5f6488" stroke="#fff" stroke-width="8.4" paint-order="stroke" stroke-linejoin="round"/>
<path d="M993.6 1151.5L1019.2 1196.5L968.0 1196.5Z" fill="#5f6488" stroke="#fff" stroke-width="8.4" paint-order="stroke" stroke-linejoin="round"/>
<path d="M1130.6 1177.8L1156.2 1222.8L1105.0 1222.8Z" fill="#5f6488" stroke="#fff" stroke-width="8.4" paint-order="stroke" stroke-linejoin="round"/>
<path d="M1267.6 1196.2L1293.2 1241.2L1242.0 1241.2Z" fill="#5f6488" stroke="#fff" stroke-width="8.4" paint-order="stroke" stroke-linejoin="round"/>
<path d="M1404.6 1176.2L1430.2 1221.2L1379.0 1221.2Z" fill="#5f6488" stroke="#fff" stroke-width="8.4" paint-order="stroke" stroke-linejoin="round"/>
<path d="M1541.6 1198.1L1567.2 1243.1L1516.0 1243.1Z" fill="#5f6488" stroke="#fff" stroke-width="8.4" paint-order="stroke" stroke-linejoin="round"/>
<path d="M1678.6 1158.0L1704.2 1203.0L1653.0 1203.0Z" fill="#5f6488" stroke="#fff" stroke-width="8.4" paint-order="stroke" stroke-linejoin="round"/>
<path d="M1815.6 1233.5L1841.2 1278.5L1790.0 1278.5Z" fill="#5f6488" stroke="#fff" stroke-width="8.4" paint-order="stroke" stroke-linejoin="round"/>
<path d="M1952.6 1218.6L1978.2 1263.6L1927.0 1263.6Z" fill="#5f6488" stroke="#fff" stroke-width="8.4" paint-order="stroke" stroke-linejoin="round"/>
<path d="M2089.6 1199.2L2115.2 1244.2L2064.0 1244.2Z" fill="#5f6488" stroke="#fff" stroke-width="8.4" paint-order="stroke" stroke-linejoin="round"/>
<path d="M582.6 1284.4V1420.0M564.1 1284.4h37M719.6 1251.9V1401.4M701.1 1251.9h37M701.1 1401.4h37M856.6 1240.9V1382.8M838.1 1240.9h37M838.1 1382.8h37M993.6 1235.8V1376.4M975.1 1235.8h37M975.1 1376.4h37M1130.6 1218.5V1363.0M1112.1 1218.5h37M1112.1 1363.0h37M1267.6 1233.8V1378.4M1249.1 1233.8h37M1249.1 1378.4h37M1404.6 1178.8V1322.2M1386.1 1178.8h37M1386.1 1322.2h37M1541.6 1164.1V1308.2M1523.1 1164.1h37M1523.1 1308.2h37M1678.6 1172.1V1308.2M1660.1 1172.1h37M1660.1 1308.2h37M1815.6 1168.1V1312.2M1797.1 1168.1h37M1797.1 1312.2h37M1952.6 1174.0V1314.3M1934.1 1174.0h37M1934.1 1314.3h37M2089.6 1171.4V1320.9M2071.1 1171.4h37M2071.1 1320.9h37" stroke="#000" stroke-width="3.7" fill="none"/>
<path d="M445.6 1393.6L471.2 1348.6L420.0 1348.6Z" fill="#8497af" stroke="#fff" stroke-width="8.4" paint-order="stroke" stroke-linejoin="round"/>
<path d="M582.6 1387.3L608.2 1342.3L557.0 1342.3Z" fill="#8497af" stroke="#fff" stroke-width="8.4" paint-order="stroke" stroke-linejoin="round"/>
<path d="M719.6 1356.6L745.2 1311.6L694.0 1311.6Z" fill="#8497af" stroke="#fff" stroke-width="8.4" paint-order="stroke" stroke-linejoin="round"/>
<path d="M856.6 1341.8L882.2 1296.8L831.0 1296.8Z" fill="#8497af" stroke="#fff" stroke-width="8.4" paint-order="stroke" stroke-linejoin="round"/>
<path d="M993.6 1336.1L1019.2 1291.1L968.0 1291.1Z" fill="#8497af" stroke="#fff" stroke-width="8.4" paint-order="stroke" stroke-linejoin="round"/>
<path d="M1130.6 1320.8L1156.2 1275.8L1105.0 1275.8Z" fill="#8497af" stroke="#fff" stroke-width="8.4" paint-order="stroke" stroke-linejoin="round"/>
<path d="M1267.6 1336.1L1293.2 1291.1L1242.0 1291.1Z" fill="#8497af" stroke="#fff" stroke-width="8.4" paint-order="stroke" stroke-linejoin="round"/>
<path d="M1404.6 1280.5L1430.2 1235.5L1379.0 1235.5Z" fill="#8497af" stroke="#fff" stroke-width="8.4" paint-order="stroke" stroke-linejoin="round"/>
<path d="M1541.6 1266.1L1567.2 1221.1L1516.0 1221.1Z" fill="#8497af" stroke="#fff" stroke-width="8.4" paint-order="stroke" stroke-linejoin="round"/>
<path d="M1678.6 1270.2L1704.2 1225.2L1653.0 1225.2Z" fill="#8497af" stroke="#fff" stroke-width="8.4" paint-order="stroke" stroke-linejoin="round"/>
<path d="M1815.6 1270.2L1841.2 1225.2L1790.0 1225.2Z" fill="#8497af" stroke="#fff" stroke-width="8.4" paint-order="stroke" stroke-linejoin="round"/>
<path d="M1952.6 1274.2L1978.2 1229.2L1927.0 1229.2Z" fill="#8497af" stroke="#fff" stroke-width="8.4" paint-order="stroke" stroke-linejoin="round"/>
<path d="M2089.6 1276.1L2115.2 1231.1L2064.0 1231.1Z" fill="#8497af" stroke="#fff" stroke-width="8.4" paint-order="stroke" stroke-linejoin="round"/>
</g>
<g id="pb">
<rect x="556.5" y="1955.6" width="95" height="1028.5" fill="#0080ff"/>
<path d="M761.6 2102.7V2237.4M742.6 2102.7h38" stroke="#111" stroke-width="3.5" fill="none"/>
<rect x="714.1" y="2237.4" width="95" height="746.7" fill="#0080ff"/>
<path d="M919.1 1993.7V2281.6M900.1 1993.7h38" stroke="#111" stroke-width="3.5" fill="none"/>
<rect x="871.6" y="2281.6" width="95" height="702.5" fill="#0080ff"/>
<path d="M1076.7 2444.1V2514.1M1057.7 2444.1h38" stroke="#111" stroke-width="3.5" fill="none"/>
<rect x="1029.2" y="2514.1" width="95" height="470.0" fill="#0080ff"/>
<path d="M1234.2 2158.2V2452.4M1215.2 2158.2h38" stroke="#111" stroke-width="3.5" fill="none"/>
<rect x="1186.7" y="2452.4" width="95" height="531.7" fill="#0080ff"/>
<path d="M1391.8 2674.5V2760.9M1372.8 2674.5h38" stroke="#111" stroke-width="3.5" fill="none"/>
<rect x="1344.3" y="2760.9" width="95" height="223.2" fill="#0080ff"/>
<path d="M1549.4 2683.8V2768.1M1530.4 2683.8h38" stroke="#111" stroke-width="3.5" fill="none"/>
<rect x="1501.9" y="2768.1" width="95" height="216.0" fill="#0080ff"/>
<path d="M1706.9 2783.5V2832.9M1687.9 2783.5h38" stroke="#111" stroke-width="3.5" fill="none"/>
<rect x="1659.4" y="2832.9" width="95" height="151.2" fill="#0080ff"/>
<path d="M1864.5 2968.7V2972.8M1845.5 2968.7h38" stroke="#111" stroke-width="3.5" fill="none"/>
<rect x="1817.0" y="2972.8" width="95" height="11.3" fill="#0080ff"/>
<path d="M2022.0 2980.0V2981.0M2003.0 2980.0h38" stroke="#111" stroke-width="3.5" fill="none"/>
<rect x="1974.5" y="2981.0" width="95" height="3.1" fill="#0080ff"/>
<text x="1073.9" y="2450.3" font-size="87" text-anchor="middle">*</text>
<text x="1391.5" y="2685.0" font-size="87" text-anchor="middle">*</text>
<text x="1546.2" y="2702.9" font-size="87" text-anchor="middle">*</text>
<text x="1706.6" y="2799.2" font-size="87" text-anchor="middle">*</text>
<text x="1859.6" y="2974.4" font-size="87" text-anchor="middle">*</text>
<text x="2020.1" y="2988.2" font-size="87" text-anchor="middle">*</text>
<g stroke="#000" fill="none">
<path d="M445.4 1749V3010" stroke-width="8" stroke-linecap="round"/>
<path d="M421 2984.1H2170" stroke-width="7.4" stroke-linecap="butt"/>
<path d="M421 2984.1h2" stroke-width="7.4" stroke-linecap="round"/>
<path d="M420.5 2778.4H445.4" stroke-width="7.4" stroke-linecap="round"/>
<path d="M420.5 2572.7H445.4" stroke-width="7.4" stroke-linecap="round"/>
<path d="M420.5 2367.0H445.4" stroke-width="7.4" stroke-linecap="round"/>
<path d="M420.5 2161.3H445.4" stroke-width="7.4" stroke-linecap="round"/>
<path d="M420.5 1955.6H445.4" stroke-width="7.4" stroke-linecap="round"/>
<path d="M604.0 2984.1V3010" stroke-width="7.4" stroke-linecap="round"/>
<path d="M761.6 2984.1V3010" stroke-width="7.4" stroke-linecap="round"/>
<path d="M919.1 2984.1V3010" stroke-width="7.4" stroke-linecap="round"/>
<path d="M1076.7 2984.1V3010" stroke-width="7.4" stroke-linecap="round"/>
<path d="M1234.2 2984.1V3010" stroke-width="7.4" stroke-linecap="round"/>
<path d="M1391.8 2984.1V3010" stroke-width="7.4" stroke-linecap="round"/>
<path d="M1549.4 2984.1V3010" stroke-width="7.4" stroke-linecap="round"/>
<path d="M1706.9 2984.1V3010" stroke-width="7.4" stroke-linecap="round"/>
<path d="M1864.5 2984.1V3010" stroke-width="7.4" stroke-linecap="round"/>
<path d="M2022.0 2984.1V3010" stroke-width="7.4" stroke-linecap="round"/>
</g>
<g font-size="78" text-anchor="end">
<text x="379" y="3011.4">0</text>
<text x="379" y="2805.7">20</text>
<text x="379" y="2600.0">40</text>
<text x="379" y="2394.3">60</text>
<text x="379" y="2188.6">80</text>
<text x="379" y="1982.9">100</text>
</g>
<g font-size="78" text-anchor="end">
<text transform="translate(624.8 3059.0) rotate(-45)">None</text>
<text transform="translate(807.6 3071.3) rotate(-45)">10</text>
<text transform="translate(960.5 3060.7) rotate(-45)">20</text>
<text transform="translate(1123.0 3069.7) rotate(-45)">25</text>
<text transform="translate(1277.5 3060.7) rotate(-45)">50</text>
<text transform="translate(1438.4 3069.7) rotate(-45)">75</text>
<text transform="translate(1588.6 3065.3) rotate(-45)">100</text>
<text transform="translate(1739.9 3065.3) rotate(-45)">150</text>
<text transform="translate(1897.9 3065.3) rotate(-45)">200</text>
<text transform="translate(2049.5 3065.3) rotate(-45)">400</text>
</g>
<text x="1312.4" y="3264" font-size="83" text-anchor="middle">Tannic acid (<tspan font-family="'Liberation Serif', serif" font-weight="400" font-size="87" stroke="#000" stroke-width="1.3">μ</tspan>g/mL)</text>
<text transform="translate(226.8 2600) rotate(-90)" font-size="83">Viability (%)</text>
<text x="152.5" y="1802.4" font-size="114">B</text>
</g>
</svg>
</body></html>
